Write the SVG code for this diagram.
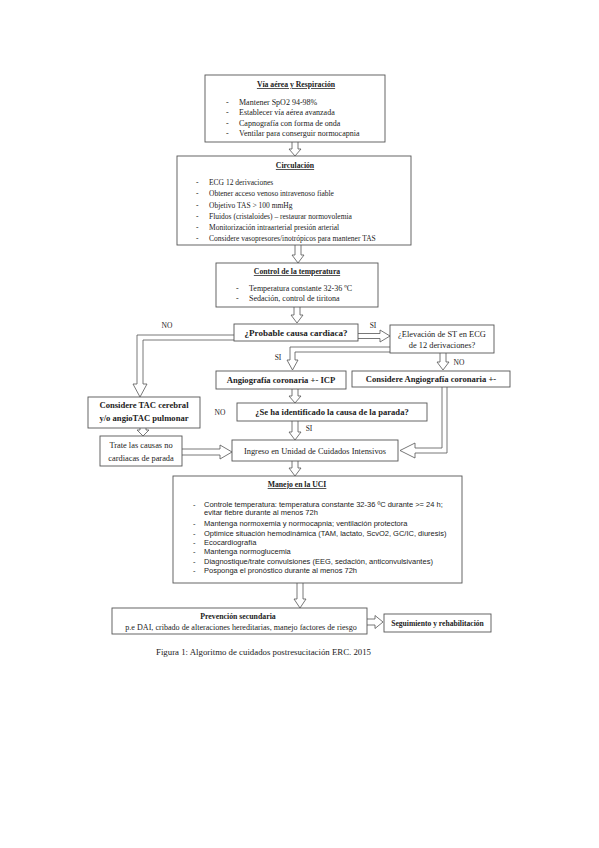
<svg xmlns="http://www.w3.org/2000/svg" width="599" height="848" viewBox="0 0 599 848">
<style>
.bx{fill:#fff;stroke:#555;stroke-width:0.9}
.ar{fill:#fff;stroke:#555;stroke-width:0.8;stroke-linejoin:miter}
text{font-family:"Liberation Serif","Times New Roman",serif;fill:#222}
.t{font-size:7.7px;font-weight:bold;text-decoration:underline;text-anchor:middle}
.i{font-size:7.5px}
.i1{font-size:8px}
.b{font-size:8.6px;font-weight:bold;text-anchor:middle}
.r{font-size:8.4px;text-anchor:middle}
.s{font-family:"Liberation Sans",Arial,sans-serif;font-size:7.5px}
</style>
<rect width="599" height="848" fill="#fff"/>

<g id="connectors">
<path class="ar" d="M292,142 V149 H289 L295,156 L301,149 H298 V142"/>
<path class="ar" d="M295,245 V255 H292 L298,263 L304,255 H301 V245"/>
<path class="ar" d="M294,307 V315 H291 L297,323 L303,315 H300 V307"/>
<path class="ar" d="M234,335 H137 V384 H133 L140,397 L147,384 H143 V340 H234"/>
<path class="ar" d="M358,333.5 H380 V330 L390,336 L380,342 V338.5 H358"/>
<path class="ar" d="M390,347 H290 V360 H287 L292.5,370 L298,360 H295 V352 H390"/>
<path class="ar" d="M440,353 V362 H437 L443,370 L449,362 H446 V353"/>
<path class="ar" d="M442,387 V448 H415 V443 L400,450.5 L415,458 V453 H447 V387"/>
<path class="ar" d="M292,389 V396 H289 L295,403 L301,396 H298 V389"/>
<path class="ar" d="M292,421 V432 H289 L295,440 L301,432 H298 V421"/>
<path class="ar" d="M140,428 V430 H137 L143,436 L149,430 H146 V428"/>
<path class="ar" d="M182,449 H220 V445 L232,452 L220,459 V455 H182"/>
<path class="ar" d="M292,460 V468 H289 L295,476 L301,468 H298 V460"/>
<path class="ar" d="M297,583 V599 H294 L300,608 L306,599 H303 V583"/>
<path class="ar" d="M367,619 H375 V615.5 L383,622 L375,628.5 V625 H367"/>
</g>

<g id="lbl">
<text class="r" x="167" y="328" style="font-size:7.5px">NO</text>
<text class="r" x="373" y="328" style="font-size:7.5px">SI</text>
<text class="r" x="278" y="360" style="font-size:7.5px">SI</text>
<text class="r" x="459" y="365" style="font-size:7.5px">NO</text>
<text class="r" x="220" y="415" style="font-size:7.5px">NO</text>
<text class="r" x="309" y="431" style="font-size:7.5px">SI</text>
</g>

<g id="via">
<rect class="bx" x="205" y="75" width="180" height="67"/>
<text class="t" x="296" y="87">Vía aérea y Respiración</text>
<text class="i1" x="226" y="105">-</text><text class="i1" x="239" y="105">Mantener SpO2 94-98%</text>
<text class="i1" x="226" y="115">-</text><text class="i1" x="239" y="115">Establecer vía aérea avanzada</text>
<text class="i1" x="226" y="126">-</text><text class="i1" x="239" y="126">Capnografía con forma de onda</text>
<text class="i1" x="226" y="136">-</text><text class="i1" x="239" y="136">Ventilar para conserguir normocapnia</text>
</g>

<g id="circ">
<rect class="bx" x="177" y="156" width="234" height="89"/>
<text class="t" x="295" y="168">Circulación</text>
<text class="i" x="196" y="185">-</text><text class="i" x="209" y="185">ECG 12 derivaciones</text>
<text class="i" x="196" y="196">-</text><text class="i" x="209" y="196">Obtener acceso venoso intravenoso fiable</text>
<text class="i" x="196" y="208">-</text><text class="i" x="209" y="208">Objetivo TAS &gt; 100 mmHg</text>
<text class="i" x="196" y="219">-</text><text class="i" x="209" y="219">Fluidos (cristaloides) – restaurar normovolemia</text>
<text class="i" x="196" y="230">-</text><text class="i" x="209" y="230">Monitorización intraarterial presión arterial</text>
<text class="i" x="196" y="241">-</text><text class="i" x="209" y="241">Considere vasopresores/inotrópicos para mantener TAS</text>
</g>

<g id="temp">
<rect class="bx" x="216" y="263" width="162" height="44"/>
<text class="t" x="297" y="274">Control de la temperatura</text>
<text class="i1" x="236" y="291">-</text><text class="i1" x="249" y="291">Temperatura constante 32-36 ºC</text>
<text class="i1" x="236" y="301">-</text><text class="i1" x="249" y="301">Sedación, control de tiritona</text>
</g>

<g id="probable">
<rect class="bx" x="234" y="324" width="124" height="17"/>
<text class="b" x="296" y="336" style="font-size:9px">¿Probable causa cardiaca?</text>
</g>

<g id="elev">
<rect class="bx" x="390" y="325" width="104" height="28"/>
<text class="r" x="442" y="337">¿Elevación de ST en ECG</text>
<text class="r" x="442" y="348">de 12 derivaciones?</text>
</g>

<g id="icp">
<rect class="bx" x="216" y="371" width="130" height="18"/>
<text class="b" x="281" y="383">Angiografía coronaria +- ICP</text>
</g>

<g id="consang">
<rect class="bx" x="352" y="371" width="158" height="16"/>
<text class="b" x="431" y="382">Considere Angiografía coronaria +-</text>
</g>

<g id="tac">
<rect class="bx" x="88" y="397" width="112" height="31"/>
<text class="b" x="144" y="408">Considere TAC cerebral</text>
<text class="b" x="144" y="421">y/o angioTAC pulmonar</text>
</g>

<g id="seha">
<rect class="bx" x="237" y="403" width="190" height="18"/>
<text class="b" x="332" y="415">¿Se ha identificado la causa de la parada?</text>
</g>

<g id="trate">
<rect class="bx" x="100" y="436" width="82" height="30"/>
<text class="r" x="141" y="448">Trate las causas no</text>
<text class="r" x="141" y="461">cardiacas de parada</text>
</g>

<g id="ingreso">
<rect class="bx" x="232" y="440" width="166" height="21"/>
<text class="r" x="315" y="454">Ingreso en Unidad de Cuidados Intensivos</text>
</g>

<g id="manejo">
<rect class="bx" x="173" y="476" width="289" height="107"/>
<text class="t" x="297" y="487">Manejo en la UCI</text>
<text class="s" x="193" y="506.5">-</text><text class="s" x="204" y="506.5">Controle temperatura: temperatura constante 32-36 ºC durante &gt;= 24 h;</text>
<text class="s" x="204" y="515">evitar fiebre durante al menos 72h</text>
<text class="s" x="193" y="525.5">-</text><text class="s" x="204" y="525.5">Mantenga normoxemia y normocapnia; ventilación protectora</text>
<text class="s" x="193" y="535.5">-</text><text class="s" x="204" y="535.5">Optimice situación hemodinámica (TAM, lactato, ScvO2, GC/IC, diuresis)</text>
<text class="s" x="193" y="544.5">-</text><text class="s" x="204" y="544.5">Ecocardiografía</text>
<text class="s" x="193" y="554">-</text><text class="s" x="204" y="554">Mantenga normoglucemia</text>
<text class="s" x="193" y="563.5">-</text><text class="s" x="204" y="563.5">Diagnostique/trate convulsiones (EEG, sedación, anticonvulsivantes)</text>
<text class="s" x="193" y="573">-</text><text class="s" x="204" y="573">Posponga el pronóstico durante al menos 72h</text>
</g>

<g id="prev">
<rect class="bx" x="112" y="608" width="255" height="26"/>
<text class="b" x="238" y="619" style="font-size:7.8px">Prevención secundaria</text>
<text class="r" x="241" y="630" style="font-size:8.1px">p.e DAI, cribado de alteraciones hereditarias, manejo factores de riesgo</text>
</g>

<g id="seg">
<rect class="bx" x="384" y="614" width="107" height="18"/>
<text class="b" x="437.5" y="626" style="font-size:7.6px">Seguimiento y rehabilitación</text>
</g>

<text x="156" y="655" style="font-size:8.8px">Figura 1: Algoritmo de cuidados postresucitación ERC. 2015</text>
</svg>
